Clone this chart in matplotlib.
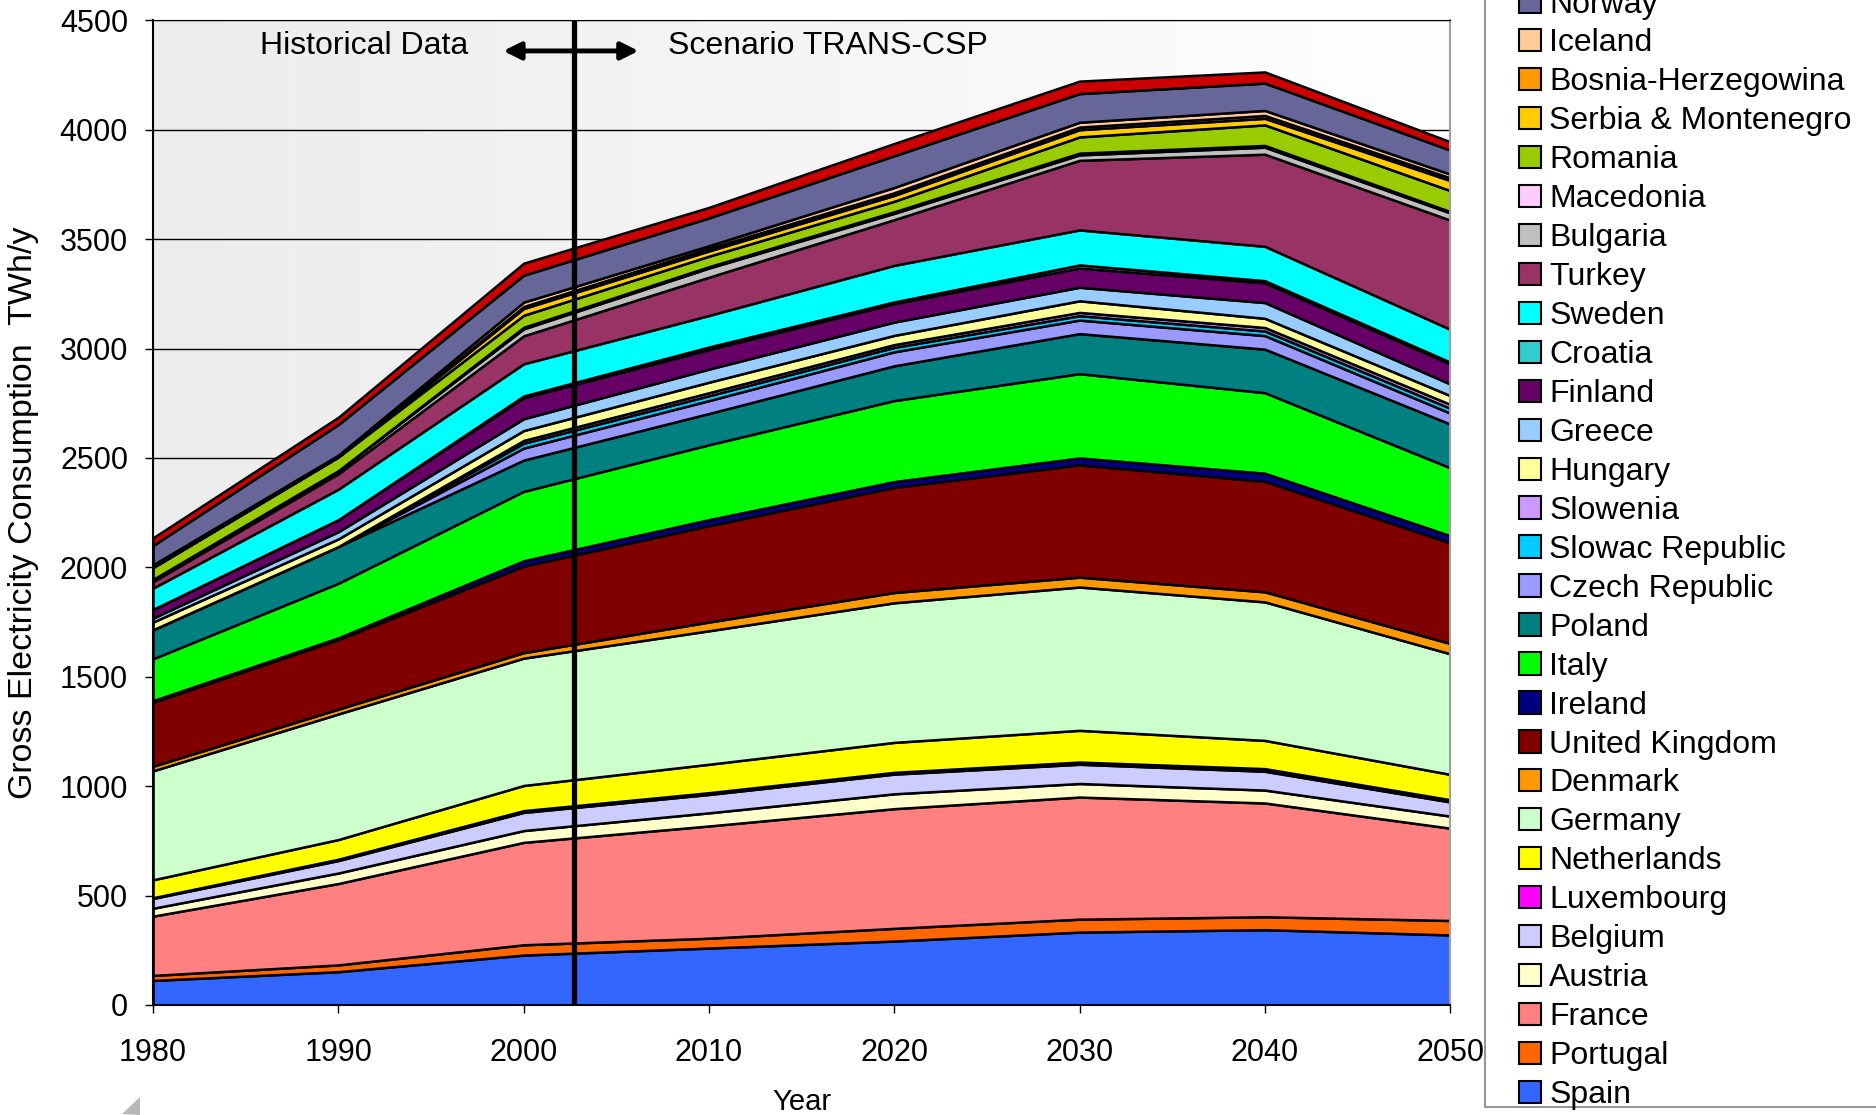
import matplotlib
matplotlib.use("Agg")
import matplotlib.pyplot as plt
import numpy as np
from matplotlib.patches import Patch, Rectangle, Polygon
from matplotlib.colors import LinearSegmentedColormap

plt.rcParams['font.family'] = ['Liberation Sans', 'DejaVu Sans']

years = [1980, 1990, 2000, 2010, 2020, 2030, 2040, 2050]

# TWh/y per country, stacked from the bottom up
spain       = [112, 152, 228, 260, 292, 333, 344, 320]
portugal    = [23, 31, 47, 45, 58, 59, 59, 66]
france      = [271, 372, 468, 513, 547, 558, 520, 422]
austria     = [36, 48, 54, 60, 68, 62, 59, 55]
belgium     = [45, 57, 83, 84, 90, 88, 86, 65]
luxembourg  = [3, 6, 8, 8, 8, 10, 12, 10]
netherlands = [82, 90, 115, 130, 137, 145, 129, 116]
germany     = [498, 574, 582, 610, 638, 655, 633, 551]
denmark     = [21, 22, 25, 40, 47, 45, 46, 47]
uk          = [292, 318, 395, 440, 480, 513, 505, 460]
ireland     = [8, 8, 25, 28, 27, 32, 37, 33]
italy       = [191, 249, 317, 342, 370, 385, 368, 310]
poland      = [133, 168, 143, 143, 159, 183, 199, 200]
czech       = [0, 0, 55, 59, 64, 62, 62, 50]
slowac      = [0, 0, 22, 22, 20, 20, 21, 22]
slowenia    = [0, 0, 13, 14, 13, 15, 16, 18]
hungary     = [35, 35, 45, 48, 42, 53, 42, 40]
greece      = [18, 33, 54, 60, 61, 62, 72, 53]
finland     = [40, 55, 96, 89, 84, 88, 90, 92]
croatia     = [0, 0, 8, 12, 8, 14, 10, 8]
sweden      = [97, 139, 147, 144, 167, 160, 157, 150]
turkey      = [30, 71, 128, 175, 209, 318, 421, 499]
bulgaria    = [10, 14, 32, 42, 29, 25, 32, 33]
macedonia   = [0, 0, 7, 6, 7, 8, 8, 6]
romania     = [55, 63, 55, 48, 48, 74, 94, 96]
serbia      = [0, 0, 31, 24, 27, 33, 30, 46]
bosnia      = [0, 0, 9, 12, 12, 12, 13, 12]
iceland     = [12, 8, 20, 12, 24, 22, 23, 17]
norway      = [88, 140, 123, 127, 145, 131, 125, 110]
top_red     = [35, 33, 55, 48, 56, 57, 51, 38]

names = ["Spain", "Portugal", "France", "Austria", "Belgium", "Luxembourg",
         "Netherlands", "Germany", "Denmark", "United Kingdom", "Ireland",
         "Italy", "Poland", "Czech Republic", "Slowac Republic", "Slowenia",
         "Hungary", "Greece", "Finland", "Croatia", "Sweden", "Turkey",
         "Bulgaria", "Macedonia", "Romania", "Serbia & Montenegro",
         "Bosnia-Herzegowina", "Iceland", "Norway"]
series = [spain, portugal, france, austria, belgium, luxembourg, netherlands,
          germany, denmark, uk, ireland, italy, poland, czech, slowac,
          slowenia, hungary, greece, finland, croatia, sweden, turkey,
          bulgaria, macedonia, romania, serbia, bosnia, iceland, norway,
          top_red]
colors = ["#3366FF", "#FF6600", "#FF8080", "#FFFFCC", "#CCCCFF", "#FF00FF",
          "#FFFF00", "#CCFFCC", "#FF9900", "#800000", "#000080", "#00FF00",
          "#008080", "#9999FF", "#00CCFF", "#CC99FF", "#FFFF99", "#99CCFF",
          "#660066", "#33CCCC", "#00FFFF", "#993366", "#C0C0C0", "#FFCCFF",
          "#99CC00", "#FFCC00", "#FF9900", "#FFCC99", "#666699", "#CC0000"]

fig = plt.figure(figsize=(18.76, 11.15), dpi=100)
ax = fig.add_axes([0.0816, 0.0987, 0.6914, 0.8831])

# light grey -> white plot background
grad = np.linspace(0, 1, 256).reshape(1, -1)
bg = LinearSegmentedColormap.from_list("bg", ["#ececec", "#ffffff"])
ax.imshow(grad, extent=(1980, 2050, 0, 4500), aspect="auto", cmap=bg, zorder=0)

ax.stackplot(years, *series, colors=colors, edgecolor="black",
             linewidth=1.8, zorder=2)

ax.set_xlim(1980, 2050)
ax.set_ylim(0, 4500)
ax.set_xticks(years)
ax.set_yticks(range(0, 4501, 500))
ax.yaxis.grid(True, color="black", linewidth=1)
ax.set_axisbelow(True)
ax.tick_params(axis="both", labelsize=22, direction="out", length=6, width=1)
ax.tick_params(axis="x", pad=18)
ax.tick_params(axis="y", pad=12)
for s in ["left", "bottom", "top"]:
    ax.spines[s].set_color("black")
ax.spines["left"].set_linewidth(1.5)
ax.spines["bottom"].set_linewidth(1.5)
ax.spines["right"].set_color("#a0a0a0")
ax.spines["right"].set_linewidth(1.5)

# split between history and scenario
ax.axvline(2002.7, color="black", linewidth=3.8, zorder=4)
ax.annotate("", xy=(1998.9, 4360), xytext=(2006.2, 4360),
            arrowprops=dict(arrowstyle="<|-|>", color="black", lw=3.5,
                            mutation_scale=26, shrinkA=0, shrinkB=0),
            zorder=5)
ax.text(1991.4, 4382, "Historical Data", ha="center", va="center", fontsize=23)
ax.text(2007.8, 4382, "Scenario TRANS-CSP", ha="left", va="center", fontsize=23)

fig.text(24 / 1876, 0.5404, "Gross Electricity Consumption  TWh/y",
         rotation=90, ha="center", va="center", fontsize=24.5)
fig.text(0.4272, 1 - 1102 / 1115, "Year", ha="center", va="center", fontsize=21)

# legend frame runs off the top/right edge like in the source
frame = Rectangle((1485 / 1876, 1 - 1107 / 1115), 0.4, 1.2,
                  transform=fig.transFigure, facecolor="white",
                  edgecolor="#808080", linewidth=1.2, zorder=1)
fig.add_artist(frame)

handles = [Patch(facecolor=c, edgecolor="black", linewidth=1.5)
           for c in colors[:len(names)]][::-1]
fig.legend(handles, names[::-1], loc="lower left",
           bbox_to_anchor=(1519 / 1876, 1 - 1110 / 1115),
           frameon=False, fontsize=23, borderpad=0, borderaxespad=0,
           handlelength=0.7, handleheight=0.7, handletextpad=0.25,
           labelspacing=0.28)

# small grey fragment at the bottom left
tri = Polygon([(122 / 1876, 1 - 1114 / 1115), (140 / 1876, 1 - 1097 / 1115),
               (140 / 1876, 0.0)], closed=True, transform=fig.transFigure,
              facecolor="#b8b8b8", edgecolor="none")
fig.add_artist(tri)

fig.savefig("out.png", dpi=100)
